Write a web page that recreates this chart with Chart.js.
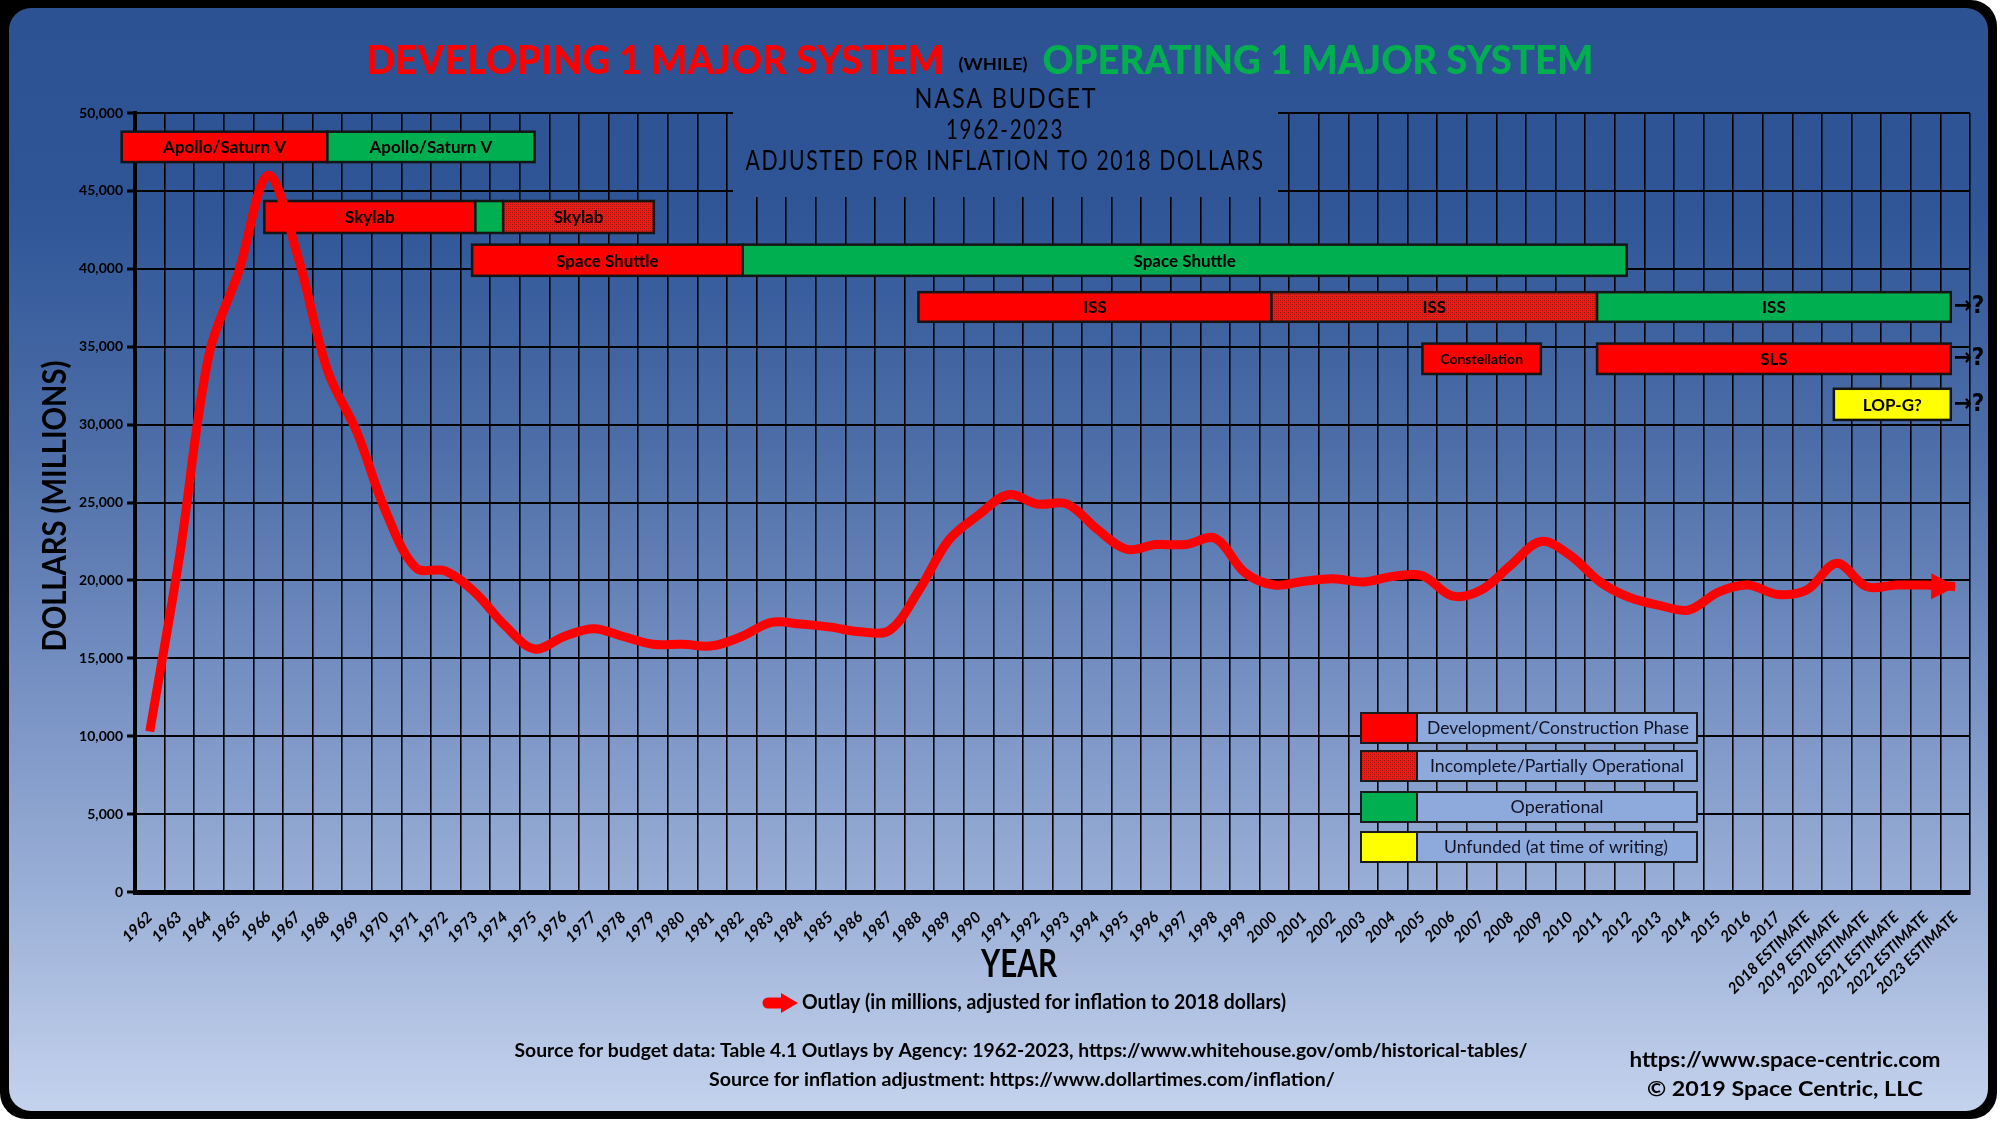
<!DOCTYPE html>
<html>
<head>
<meta charset="utf-8">
<title>NASA Budget 1962-2023</title>
<script src="https://cdn.jsdelivr.net/npm/chart.js@4.4.1/dist/chart.umd.min.js"></script>
<style>
  html, body { margin: 0; padding: 0; background: #fff; }
  canvas { display: block; }
</style>
</head>
<body>
<canvas id="budget-chart" width="2000" height="1121"></canvas>
<script>
// --- data (millions, 2018 dollars) ---
const yearLabels = [
  "1962", "1963", "1964", "1965", "1966", "1967", "1968", "1969", "1970", "1971",
  "1972", "1973", "1974", "1975", "1976", "1977", "1978", "1979", "1980", "1981",
  "1982", "1983", "1984", "1985", "1986", "1987", "1988", "1989", "1990", "1991",
  "1992", "1993", "1994", "1995", "1996", "1997", "1998", "1999", "2000", "2001",
  "2002", "2003", "2004", "2005", "2006", "2007", "2008", "2009", "2010", "2011",
  "2012", "2013", "2014", "2015", "2016", "2017",
  "2018 ESTIMATE", "2019 ESTIMATE", "2020 ESTIMATE", "2021 ESTIMATE", "2022 ESTIMATE", "2023 ESTIMATE"
];
const outlay = [
  10300, 21500, 34500, 39800, 46000, 40800, 33500, 29500, 24300, 20800,
  20600, 19200, 17100, 15600, 16400, 16900, 16400, 15900, 15900, 15800,
  16400, 17300, 17200, 17000, 16700, 16800, 19400, 22600, 24200, 25500,
  24900, 24900, 23300, 22000, 22300, 22300, 22700, 20500, 19700, 19950,
  20100, 19900, 20250, 20300, 19000, 19400, 21000, 22500, 21600, 19900,
  18900, 18400, 18100, 19250, 19700, 19100,
  19400, 21100, 19600, 19700, 19700, 19600
];
const yTicks = [0, 5000, 10000, 15000, 20000, 25000, 30000, 35000, 40000, 45000, 50000];

// program timeline segments (years as decimals)
const segLabels = ["Apollo/Saturn V", "Apollo/Saturn V", "Skylab", "", "Skylab", "Space Shuttle", "Space Shuttle",
  "ISS", "ISS", "ISS", "Constellation", "SLS", "LOP-G?"];
const segPhase = ["dev", "ops", "dev", "ops", "partial", "dev", "ops", "dev", "partial", "ops", "dev", "dev", "unfunded"];
const segStart = [1961.05, 1968.0, 1965.87, 1973.0, 1973.94, 1972.89, 1982.03, 1987.97, 1999.9, 2010.9, 2005.0, 2010.9, 2018.9];
const segEnd = [1968.0, 1975.0, 1973.0, 1973.94, 1979.03, 1982.03, 2011.9, 1999.9, 2010.9, 2022.85, 2009.0, 2022.85, 2022.85];
const segRow = [0, 0, 1, 1, 1, 2, 2, 3, 3, 3, 4, 4, 5];
const openRows = [3, 4, 5]; // still running after 2023

const phaseNames = ["Development/Construction Phase", "Incomplete/Partially Operational", "Operational", "Unfunded (at time of writing)"];
const phaseKeys = ["dev", "partial", "ops", "unfunded"];

// --- drawing helpers ---
const FONT = "Lato, 'DejaVu Sans', sans-serif";
const canvas = document.getElementById("budget-chart");
const ctx = canvas.getContext("2d");

// row bands in value units
const rowBands = [[46850, 48800], [42300, 44350], [39550, 41550], [36600, 38500], [33250, 35200], [30300, 32300]];

function pageGradient(c) {
  const g = c.createLinearGradient(0, 0, 0, 1121);
  g.addColorStop(0, "#2d5292");
  g.addColorStop(0.18, "#2f5597");
  g.addColorStop(0.4, "#4d6ea8");
  g.addColorStop(0.62, "#7892c4");
  g.addColorStop(0.8, "#9bb0d7");
  g.addColorStop(1, "#c6d4ee");
  return g;
}

function hatchPattern(c) {
  const p = document.createElement("canvas");
  p.width = 4; p.height = 4;
  const g = p.getContext("2d");
  g.fillStyle = "#f21a14"; g.fillRect(0, 0, 4, 4);
  g.fillStyle = "#9a1410"; g.fillRect(0, 0, 1, 1); g.fillRect(2, 2, 1, 1);
  g.fillStyle = "#c41812"; g.fillRect(2, 0, 1, 1); g.fillRect(0, 2, 1, 1);
  return c.createPattern(p, "repeat");
}

function phaseFill(c, key) {
  if (key === "dev") return "#ff0000";
  if (key === "ops") return "#00b050";
  if (key === "unfunded") return "#ffff00";
  return hatchPattern(c);
}

// draw text centred at (cx, cy), squeezed to a given width
function fitText(c, text, cx, cy, width, size, weight, color, angle, spacing) {
  c.save();
  c.font = `${weight} ${size}px ${FONT}`;
  if (spacing) c.letterSpacing = spacing;
  c.fillStyle = color;
  c.textAlign = "center";
  c.textBaseline = "alphabetic";
  const w = c.measureText(text).width;
  c.translate(cx, cy);
  if (angle) c.rotate(angle);
  c.scale(width / w, 1);
  c.fillText(text, 0, size * 0.36);
  c.restore();
}

function roundRect(c, x, y, w, h, r) {
  c.beginPath();
  c.moveTo(x + r, y);
  c.arcTo(x + w, y, x + w, y + h, r);
  c.arcTo(x + w, y + h, x, y + h, r);
  c.arcTo(x, y + h, x, y, r);
  c.arcTo(x, y, x + w, y, r);
  c.closePath();
}

// --- plugins ---
const framePlugin = {
  id: "frame",
  beforeDraw(chart) {
    const c = chart.ctx;
    c.save();
    c.fillStyle = "#ffffff";
    c.fillRect(0, 0, chart.width, chart.height);
    c.fillStyle = "#000";
    roundRect(c, 0, 0, 1997, 1119, 26);
    c.fill();
    c.fillRect(0, 0, 40, 40);
    c.fillStyle = pageGradient(c);
    roundRect(c, 9, 8, 1979, 1103, 22);
    c.fill();
    c.restore();
  },
};

const timelinePlugin = {
  id: "timeline",
  beforeDatasetsDraw(chart) {
    const c = chart.ctx;
    const x = chart.scales.x;
    const y = chart.scales.y;

    // subtitle panel hides the grid behind it
    c.save();
    c.fillStyle = pageGradient(c);
    c.fillRect(733, 100, 545, 97);
    c.restore();
    fitText(c, "NASA BUDGET", 1006, 99, 183, 26, "normal", "#000", 0, "2px");
    fitText(c, "1962-2023", 1005, 130, 118, 26, "normal", "#000", 0, "2px");
    fitText(c, "ADJUSTED FOR INFLATION TO 2018 DOLLARS", 1005, 161, 519, 26, "normal", "#000", 0, "2px");

    // program bars
    for (let i = 0; i < segLabels.length; i++) {
      const band = rowBands[segRow[i]];
      const x0 = x.getPixelForValue(segStart[i] - 1962);
      const x1 = x.getPixelForValue(segEnd[i] - 1962);
      const y0 = y.getPixelForValue(band[1]);
      const y1 = y.getPixelForValue(band[0]);
      c.save();
      c.fillStyle = phaseFill(c, segPhase[i]);
      c.fillRect(x0, y0, x1 - x0, y1 - y0);
      c.strokeStyle = "#151515";
      c.lineWidth = 2.5;
      c.strokeRect(x0, y0, x1 - x0, y1 - y0);
      c.restore();
      if (segLabels[i]) {
        const small = segLabels[i] === "Constellation";
        c.save();
        c.font = `bold ${small ? 14 : 17}px ${FONT}`;
        c.fillStyle = "#000";
        c.textAlign = "center";
        c.textBaseline = "middle";
        c.fillText(segLabels[i], (x0 + x1) / 2, (y0 + y1) / 2 + 1);
        c.restore();
      }
    }
    openRows.forEach((r) => {
      const last = segEnd[segRow.lastIndexOf(r)];
      const band = rowBands[r];
      c.save();
      c.font = "bold 24px 'DejaVu Sans Condensed', 'DejaVu Sans', sans-serif";
      c.fillStyle = "#000";
      c.textBaseline = "middle";
      c.fillText("→?", x.getPixelForValue(last - 1962) + 3, y.getPixelForValue((band[0] + band[1]) / 2));
      c.restore();
    });

    // phase legend
    const rowsY = [713, 751, 792, 832];
    phaseKeys.forEach((k, i) => {
      const top = rowsY[i];
      c.save();
      c.fillStyle = phaseFill(c, k);
      c.fillRect(1361, top, 56, 30);
      c.fillStyle = "#8eaadc";
      c.fillRect(1417, top, 280, 30);
      c.strokeStyle = "#1a1a1a";
      c.lineWidth = 2;
      c.strokeRect(1361, top, 56, 30);
      c.strokeRect(1417, top, 280, 30);
      c.restore();
    });
    fitText(c, phaseNames[0], 1558, 728, 262, 18, "normal", "#121225");
    fitText(c, phaseNames[1], 1557, 766, 254, 18, "normal", "#121225");
    fitText(c, phaseNames[2], 1557, 807, 93, 18, "normal", "#121225");
    fitText(c, phaseNames[3], 1556, 847, 224, 18, "normal", "#121225");
  },
  afterDatasetsDraw(chart) {
    // arrowhead at the end of the outlay line
    const c = chart.ctx;
    const pts = chart.getDatasetMeta(0).data;
    const tip = pts[pts.length - 1];
    const prev = pts[pts.length - 2];
    const ang = Math.atan2(tip.y - prev.y, tip.x - prev.x) * 0.3;
    c.save();
    c.translate(tip.x, tip.y);
    c.rotate(ang);
    c.fillStyle = "#ff0000";
    c.beginPath();
    c.moveTo(1, 0);
    c.lineTo(-24, -13);
    c.lineTo(-24, 13);
    c.closePath();
    c.fill();
    c.restore();
  },
  afterDraw(chart) {
    const c = chart.ctx;
    // headline
    fitText(c, "DEVELOPING 1 MAJOR SYSTEM", 655, 60, 578, 40, "900", "#ff0000");
    fitText(c, "(WHILE)", 993, 64, 69, 17, "bold", "#000");
    fitText(c, "OPERATING 1 MAJOR SYSTEM", 1318, 60, 551, 40, "900", "#00b050");

    // axis titles
    fitText(c, "DOLLARS (MILLIONS)", 54, 506, 291, 33, "bold", "#000", -Math.PI / 2);
    fitText(c, "YEAR", 1019, 963, 76, 38, "bold", "#000");

    // series key
    c.save();
    c.fillStyle = "#ff0000";
    c.beginPath();
    c.arc(768, 1003, 5.5, Math.PI / 2, Math.PI * 1.5);
    c.lineTo(781, 997.5);
    c.lineTo(781, 993);
    c.lineTo(798, 1003);
    c.lineTo(781, 1013);
    c.lineTo(781, 1008.5);
    c.closePath();
    c.fill();
    c.restore();
    fitText(c, "Outlay (in millions, adjusted for inflation to 2018 dollars)", 802 + 484 / 2, 1002, 484, 20, "bold", "#000");

    // sources and credits
    fitText(c, "Source for budget data: Table 4.1 Outlays by Agency: 1962-2023, https://www.whitehouse.gov/omb/historical-tables/",
      1021, 1050, 1013, 19, "bold", "#000");
    fitText(c, "Source for inflation adjustment: https://www.dollartimes.com/inflation/", 1022, 1079, 626, 19, "bold", "#000");
    fitText(c, "https://www.space-centric.com", 1785, 1059, 311, 21, "bold", "#000");
    fitText(c, "© 2019 Space Centric, LLC", 1785, 1088, 276, 21, "bold", "#000");
  },
};

// --- chart ---
new Chart(ctx, {
  type: "line",
  data: {
    labels: yearLabels,
    datasets: [
      {
        label: "Outlay (in millions, adjusted for inflation to 2018 dollars)",
        data: outlay,
        borderColor: "#ff0000",
        borderWidth: 9,
        borderCapStyle: "butt",
        borderJoinStyle: "round",
        tension: 0.35,
        pointRadius: 0,
        fill: false,
      },
    ],
  },
  options: {
    responsive: false,
    animation: false,
    events: [],
    layout: { padding: { left: 0, top: 113, right: 30, bottom: 0 } },
    scales: {
      x: {
        offset: true,
        grid: { offset: true, color: "#000", lineWidth: 1.6, drawTicks: false },
        border: { color: "#000", width: 5 },
        ticks: {
          color: "#000",
          autoSkip: false,
          minRotation: 45,
          maxRotation: 45,
          padding: 16,
          font: { family: FONT, size: 15.5, weight: "bold", style: "italic" },
        },
        afterFit(scale) { scale.height = 229; },
      },
      y: {
        min: 0,
        max: 50000,
        afterBuildTicks(scale) { scale.ticks = yTicks.map((v) => ({ value: v })); },
        grid: { color: "#000", lineWidth: 2, tickLength: 8, tickWidth: 3, tickColor: "#000" },
        border: { color: "#000", width: 4 },
        ticks: {
          color: "#000",
          padding: 4,
          font: { family: FONT, size: 14, weight: "bold" },
          callback: (v) => v.toLocaleString("en-US"),
        },
        afterFit(scale) { scale.width = 135; },
      },
    },
    plugins: {
      legend: { display: false },
      tooltip: { enabled: false },
    },
  },
  plugins: [framePlugin, timelinePlugin],
});
</script>
</body>
</html>
